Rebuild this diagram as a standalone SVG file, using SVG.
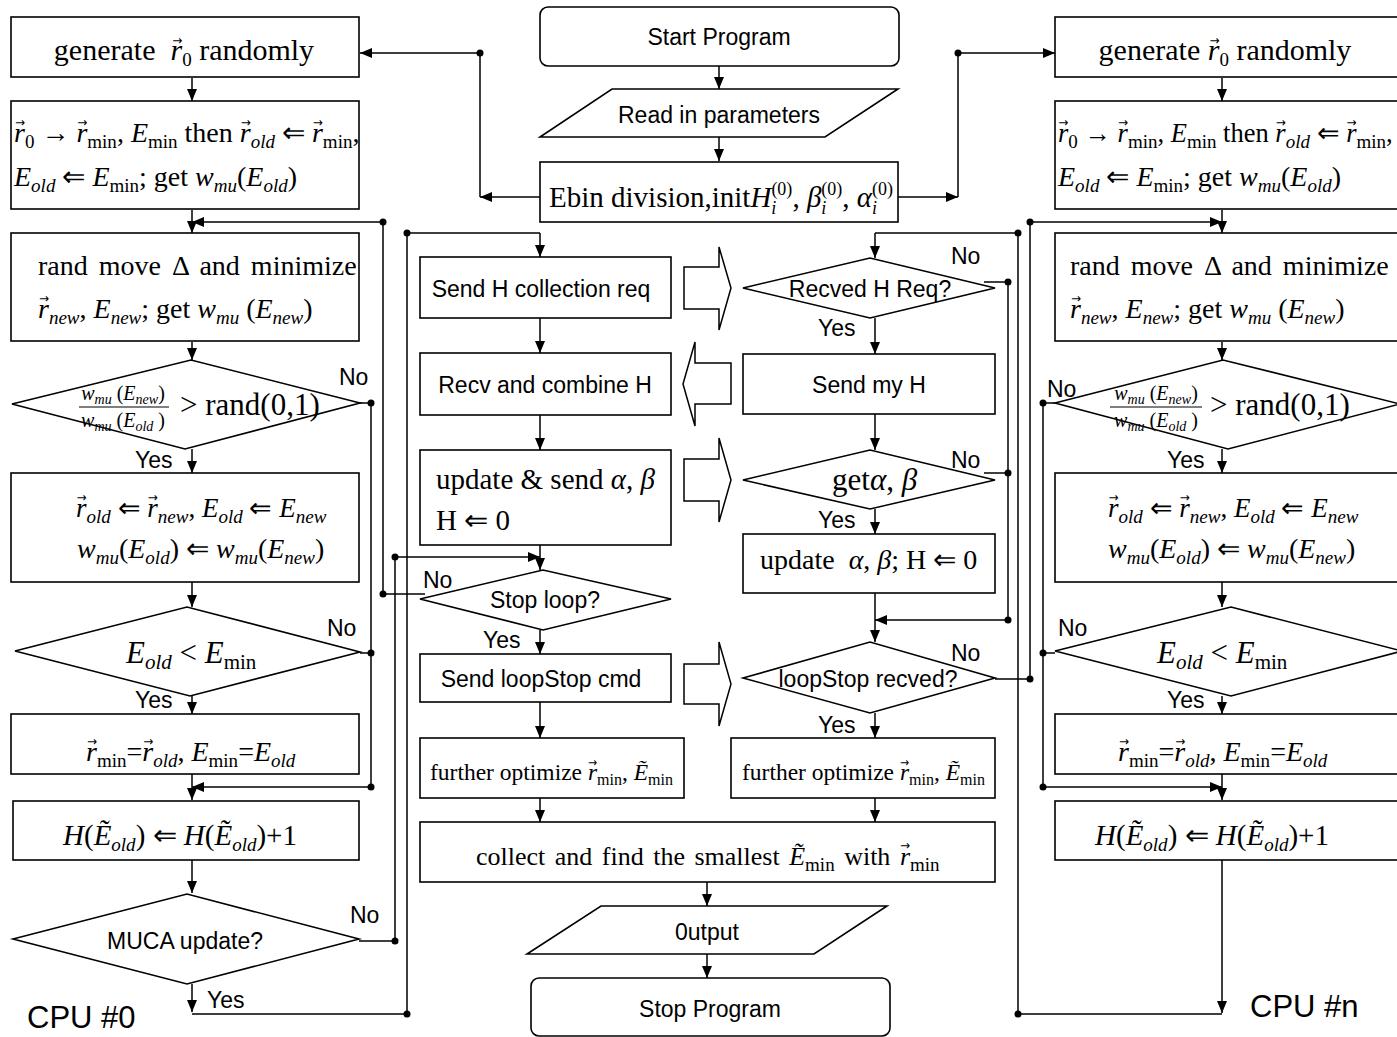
<svg xmlns="http://www.w3.org/2000/svg" width="1397" height="1037" viewBox="0 0 1397 1037">
<style>
.nd{fill:#fff;stroke:#000;stroke-width:1.6}
.cn{fill:none;stroke:#000;stroke-width:1.5}
.ar{marker-end:url(#ah)}
.dt{fill:#000}
.sa{font-family:"Liberation Sans",Arial,sans-serif;font-size:23px;fill:#000}
.mt{font-family:"Liberation Serif","Times New Roman",serif;font-size:28px;fill:#000}
.it{font-style:italic}
.sb{font-size:19px}
.va{font-family:"DejaVu Sans",sans-serif;font-size:13px;font-style:normal}
.bk{fill:#fff;stroke:#000;stroke-width:1.5}
</style>
<defs>
<marker id="ah" viewBox="0 0 12 10" refX="12" refY="5" markerWidth="12" markerHeight="10" markerUnits="userSpaceOnUse" orient="auto"><path d="M0,0 L12,5 L0,10 Z" fill="#000"/></marker>
</defs>
<rect width="1397" height="1037" fill="#fff"/>

<g id="connectors">
<path class="cn ar" d="M719,66 V89"/>
<path class="cn ar" d="M719,137 V161"/>
<path class="cn ar" d="M540,197 H480"/>
<path class="cn ar" d="M480,197 V53 H360"/>
<path class="cn ar" d="M898,197 H958"/>
<path class="cn ar" d="M958,197 V53 H1055"/>
<circle class="dt" cx="480" cy="53" r="3.5"/>
<circle class="dt" cx="958" cy="53" r="3.5"/>
<path class="cn ar" d="M192,78 V101"/>
<path class="cn ar" d="M192,210 V233"/>
<path class="cn ar" d="M192,342 V360"/>
<path class="cn ar" d="M192,449 V473"/>
<path class="cn ar" d="M192,582 V607"/>
<path class="cn ar" d="M192,696 V714"/>
<path class="cn ar" d="M192,774 V800"/>
<path class="cn ar" d="M192,860 V893"/>
<path class="cn ar" d="M192,984 V1012"/>
<path class="cn ar" d="M383,594 V222 H192"/>
<path class="cn" d="M383,594 H425"/>
<circle class="dt" cx="383" cy="222" r="3.5"/>
<circle class="dt" cx="383" cy="594" r="3.5"/>
<path class="cn" d="M333,403 H371 V787"/>
<path class="cn" d="M360,653 H371"/>
<path class="cn ar" d="M371,787 H192"/>
<circle class="dt" cx="371" cy="403" r="3.5"/>
<circle class="dt" cx="371" cy="653" r="3.5"/>
<circle class="dt" cx="371" cy="787" r="3.5"/>
<path class="cn" d="M359,941 H395 V557"/>
<path class="cn ar" d="M395,557 H540"/>
<circle class="dt" cx="395" cy="941" r="3.5"/>
<circle class="dt" cx="395" cy="557" r="3.5"/>
<path class="cn" d="M192,1014 H407 V233 H540"/>
<path class="cn ar" d="M540,233 V257"/>
<circle class="dt" cx="407" cy="1014" r="3.5"/>
<circle class="dt" cx="407" cy="233" r="3.5"/>
<path class="cn ar" d="M540,318 V353"/>
<path class="cn ar" d="M540,415 V450"/>
<path class="cn ar" d="M540,545 V570"/>
<path class="cn ar" d="M540,630 V654"/>
<path class="cn ar" d="M540,702 V738"/>
<path class="cn ar" d="M540,798 V822"/>
<path class="cn ar" d="M707,882 V906"/>
<path class="cn ar" d="M707,954 V978"/>
<path class="cn" d="M1018,233 H875"/>
<path class="cn ar" d="M875,233 V258"/>
<path class="cn ar" d="M875,318 V354"/>
<path class="cn ar" d="M875,414 V450"/>
<path class="cn ar" d="M875,509 V534"/>
<path class="cn ar" d="M875,593 V642"/>
<path class="cn ar" d="M875,713 V738"/>
<path class="cn ar" d="M875,798 V822"/>
<path class="cn" d="M984,282 H1008 V620"/>
<path class="cn" d="M984,473 H1008"/>
<path class="cn ar" d="M1008,620 H875"/>
<circle class="dt" cx="1008" cy="282" r="3.5"/>
<circle class="dt" cx="1008" cy="473" r="3.5"/>
<circle class="dt" cx="1008" cy="620" r="3.5"/>
<path class="cn" d="M995,679 H1030 V222"/>
<path class="cn ar" d="M1030,222 H1222"/>
<circle class="dt" cx="1030" cy="679" r="3.5"/>
<circle class="dt" cx="1030" cy="222" r="3.5"/>
<path class="cn ar" d="M1222,860 V1013"/>
<path class="cn" d="M1222,1014 H1018 V233"/>
<circle class="dt" cx="1018" cy="1014" r="3.5"/>
<circle class="dt" cx="1018" cy="233" r="3.5"/>
<path class="cn ar" d="M1222,78 V101"/>
<path class="cn ar" d="M1222,210 V233"/>
<path class="cn ar" d="M1222,342 V360"/>
<path class="cn ar" d="M1222,449 V473"/>
<path class="cn ar" d="M1222,582 V607"/>
<path class="cn ar" d="M1222,696 V714"/>
<path class="cn ar" d="M1222,774 V800"/>
<path class="cn" d="M1055,403 H1043 V787"/>
<path class="cn" d="M1055,653 H1043"/>
<path class="cn ar" d="M1043,787 H1222"/>
<circle class="dt" cx="1043" cy="403" r="3.5"/>
<circle class="dt" cx="1043" cy="653" r="3.5"/>
<circle class="dt" cx="1043" cy="787" r="3.5"/>
<path class="bk" d="M684,267 H719 V247 L731,288 L719,330 V309 H684 Z"/>
<path class="bk" d="M731,363 H695 V342 L683,384 L695,426 V404 H731 Z"/>
<path class="bk" d="M684,459 H719 V438 L731,480 L719,522 V501 H684 Z"/>
<path class="bk" d="M684,664 H719 V642 L731,684 L719,726 V704 H684 Z"/>
</g>

<g id="labels" class="sa">
<text x="339" y="385">No</text>
<text x="135" y="468">Yes</text>
<text x="327" y="636">No</text>
<text x="135" y="708">Yes</text>
<text x="350" y="923">No</text>
<text x="207" y="1008">Yes</text>
<text x="423" y="588">No</text>
<text x="483" y="648">Yes</text>
<text x="951" y="264">No</text>
<text x="818" y="336">Yes</text>
<text x="951" y="468">No</text>
<text x="818" y="528">Yes</text>
<text x="951" y="661">No</text>
<text x="818" y="733">Yes</text>
<text x="1047" y="397">No</text>
<text x="1167" y="468">Yes</text>
<text x="1058" y="636">No</text>
<text x="1167" y="708">Yes</text>
<text x="27" y="1028" style="font-size:31px">CPU #0</text>
<text x="1250" y="1017" style="font-size:31px">CPU #n</text>
</g>

<g id="start">
<rect class="nd" x="540" y="7" width="359" height="59" rx="8"/>
<text class="sa" x="719" y="45" text-anchor="middle">Start Program</text>
</g>
<g id="read">
<polygon class="nd" points="612,89 898,89 825,137 540,137"/>
<text class="sa" x="719" y="123" text-anchor="middle">Read in parameters</text>
</g>
<g id="ebin">
<rect class="nd" x="540" y="162" width="358" height="60"/>
<text class="mt" x="549" y="207" style="font-size:29px">Ebin division,init<tspan class="it">H</tspan><tspan class="it" font-size="18" dy="7">i</tspan><tspan font-size="18" dx="-5" dy="-19">(0)</tspan><tspan dy="12">, </tspan><tspan class="it">β</tspan><tspan class="it" font-size="18" dy="7">i</tspan><tspan font-size="18" dx="-5" dy="-19">(0)</tspan><tspan dy="12">, </tspan><tspan class="it">α</tspan><tspan class="it" font-size="18" dy="7">i</tspan><tspan font-size="18" dx="-5" dy="-19">(0)</tspan></text>
</g>

<g id="gen0">
<rect class="nd" x="11" y="17" width="348" height="60"/>
<text class="mt" x="184" y="60" text-anchor="middle" style="font-size:30px" xml:space="preserve">generate  <tspan class="it">r</tspan><tspan class="va" dx="-10" dy="-15" textLength="10" lengthAdjust="spacingAndGlyphs">→</tspan><tspan class="sb" dy="21">0</tspan><tspan dy="-6"> randomly</tspan></text>
</g>
<g id="init0">
<rect class="nd" x="11" y="101" width="348" height="108"/>
<text class="mt" x="14" y="142"><tspan class="it">r</tspan><tspan class="va" dx="-10" dy="-15" textLength="10" lengthAdjust="spacingAndGlyphs">→</tspan><tspan class="sb" dy="21">0</tspan><tspan dy="-6"> → </tspan><tspan class="it">r</tspan><tspan class="va" dx="-10" dy="-15" textLength="10" lengthAdjust="spacingAndGlyphs">→</tspan><tspan class="sb" dy="21">min</tspan><tspan dy="-6">, </tspan><tspan class="it">E</tspan><tspan class="sb" dy="6">min</tspan><tspan dy="-6"> then </tspan><tspan class="it">r</tspan><tspan class="va" dx="-10" dy="-15" textLength="10" lengthAdjust="spacingAndGlyphs">→</tspan><tspan class="sb it" dy="21">old</tspan><tspan dy="-6"> ⇐ </tspan><tspan class="it">r</tspan><tspan class="va" dx="-10" dy="-15" textLength="10" lengthAdjust="spacingAndGlyphs">→</tspan><tspan class="sb" dy="21">min</tspan><tspan dy="-6">,</tspan></text>
<text class="mt" x="14" y="186"><tspan class="it">E</tspan><tspan class="sb it" dy="6">old</tspan><tspan dy="-6"> ⇐ </tspan><tspan class="it">E</tspan><tspan class="sb" dy="6">min</tspan><tspan dy="-6">; get </tspan><tspan class="it">w</tspan><tspan class="sb it" dy="6">mu</tspan><tspan dy="-6">(</tspan><tspan class="it">E</tspan><tspan class="sb it" dy="6">old</tspan><tspan dy="-6">)</tspan></text>
</g>
<g id="move0">
<rect class="nd" x="11" y="233" width="348" height="108"/>
<text class="mt" x="38" y="275" word-spacing="4">rand move Δ and minimize</text>
<text class="mt" x="38" y="318"><tspan class="it">r</tspan><tspan class="va" dx="-10" dy="-15" textLength="10" lengthAdjust="spacingAndGlyphs">→</tspan><tspan class="sb it" dy="21">new</tspan><tspan dy="-6">, </tspan><tspan class="it">E</tspan><tspan class="sb it" dy="6">new</tspan><tspan dy="-6">; get </tspan><tspan class="it">w</tspan><tspan class="sb it" dy="6">mu</tspan><tspan dy="-6"> (</tspan><tspan class="it">E</tspan><tspan class="sb it" dy="6">new</tspan><tspan dy="-6">)</tspan></text>
</g>
<g id="acc0">
<polygon class="nd" points="12,404 191,360 360,403 185,449"/>
<text class="mt" x="123" y="400" text-anchor="middle" style="font-size:20px"><tspan class="it">w</tspan><tspan class="it" font-size="14" dy="4">mu</tspan><tspan dy="-4"> (</tspan><tspan class="it">E</tspan><tspan class="it" font-size="14" dy="4">new</tspan><tspan dy="-4">)</tspan></text>
<path class="cn" d="M79,407 H169" style="stroke-width:1.2"/>
<text class="mt" x="123" y="427" text-anchor="middle" style="font-size:20px"><tspan class="it">w</tspan><tspan class="it" font-size="14" dy="4">mu</tspan><tspan dy="-4"> (</tspan><tspan class="it">E</tspan><tspan class="it" font-size="14" dy="4">old</tspan><tspan dy="-4"> )</tspan></text>
<text class="mt" x="180" y="415" style="font-size:31px">&gt; rand(0,1)</text>
</g>
<g id="upd0">
<rect class="nd" x="11" y="473" width="348" height="109"/>
<text class="mt" x="76" y="517" style="font-size:27px"><tspan class="it">r</tspan><tspan class="va" dx="-10" dy="-15" textLength="10" lengthAdjust="spacingAndGlyphs">→</tspan><tspan class="sb it" dy="21">old</tspan><tspan dy="-6"> ⇐ </tspan><tspan class="it">r</tspan><tspan class="va" dx="-10" dy="-15" textLength="10" lengthAdjust="spacingAndGlyphs">→</tspan><tspan class="sb it" dy="21">new</tspan><tspan dy="-6">, </tspan><tspan class="it">E</tspan><tspan class="sb it" dy="6">old</tspan><tspan dy="-6"> ⇐ </tspan><tspan class="it">E</tspan><tspan class="sb it" dy="6">new</tspan></text>
<text class="mt" x="77" y="558"><tspan class="it">w</tspan><tspan class="sb it" dy="6">mu</tspan><tspan dy="-6">(</tspan><tspan class="it">E</tspan><tspan class="sb it" dy="6">old</tspan><tspan dy="-6">) ⇐ </tspan><tspan class="it">w</tspan><tspan class="sb it" dy="6">mu</tspan><tspan dy="-6">(</tspan><tspan class="it">E</tspan><tspan class="sb it" dy="6">new</tspan><tspan dy="-6">)</tspan></text>
</g>
<g id="cmp0">
<polygon class="nd" points="15,651 187,607 360,652 190,696"/>
<text class="mt" x="126" y="663" style="font-size:31px"><tspan class="it">E</tspan><tspan class="it" font-size="21" dy="6">old</tspan><tspan dy="-6"> &lt; </tspan><tspan class="it">E</tspan><tspan font-size="21" dy="6">min</tspan></text>
</g>
<g id="rec0">
<rect class="nd" x="11" y="714" width="348" height="60"/>
<text class="mt" x="86" y="761"><tspan class="it">r</tspan><tspan class="va" dx="-10" dy="-15" textLength="10" lengthAdjust="spacingAndGlyphs">→</tspan><tspan class="sb" dy="21">min</tspan><tspan dy="-6">=</tspan><tspan class="it">r</tspan><tspan class="va" dx="-10" dy="-15" textLength="10" lengthAdjust="spacingAndGlyphs">→</tspan><tspan class="sb it" dy="21">old</tspan><tspan dy="-6">, </tspan><tspan class="it">E</tspan><tspan class="sb" dy="6">min</tspan><tspan dy="-6">=</tspan><tspan class="it">E</tspan><tspan class="sb it" dy="6">old</tspan></text>
</g>
<g id="hist0">
<rect class="nd" x="13" y="801" width="346" height="59"/>
<text class="mt" x="63" y="845" style="font-size:29px"><tspan class="it">H</tspan>(<tspan class="it">Ẽ</tspan><tspan class="sb it" dy="6">old</tspan><tspan dy="-6">) ⇐ </tspan><tspan class="it">H</tspan>(<tspan class="it">Ẽ</tspan><tspan class="sb it" dy="6">old</tspan><tspan dy="-6">)+1</tspan></text>
</g>
<g id="muca">
<polygon class="nd" points="13,939 187,894 359,939 187,984"/>
<text class="sa" x="185" y="949" text-anchor="middle">MUCA update?</text>
</g>

<g id="sendreq">
<rect class="nd" x="420" y="257" width="251" height="61"/>
<text class="sa" x="541" y="297" text-anchor="middle">Send H collection req</text>
</g>
<g id="recvcomb">
<rect class="nd" x="420" y="353" width="251" height="62"/>
<text class="sa" x="545" y="393" text-anchor="middle">Recv and combine H</text>
</g>
<g id="updsend">
<rect class="nd" x="420" y="450" width="251" height="95"/>
<text class="mt" x="436" y="489" style="font-size:29px">update &amp; send <tspan class="it">α</tspan>, <tspan class="it">β</tspan></text>
<text class="mt" x="436" y="530" style="font-size:29px">H ⇐ 0</text>
</g>
<g id="stoploop">
<polygon class="nd" points="420,599 543,570 671,599 543,630"/>
<text class="sa" x="545" y="608" text-anchor="middle">Stop loop?</text>
</g>
<g id="sendstop">
<rect class="nd" x="420" y="654" width="251" height="48"/>
<text class="sa" x="541" y="687" text-anchor="middle">Send loopStop cmd</text>
</g>
<g id="opt0">
<rect class="nd" x="420" y="738" width="264" height="60"/>
<text class="mt" x="430" y="780" style="font-size:23.5px">further optimize <tspan class="it">r</tspan><tspan class="va" dx="-9" dy="-13" textLength="9" lengthAdjust="spacingAndGlyphs" font-size="12">→</tspan><tspan font-size="16" dy="18">min</tspan><tspan dy="-5">, </tspan><tspan class="it">Ẽ</tspan><tspan font-size="16" dy="5">min</tspan></text>
</g>
<g id="recvreq">
<polygon class="nd" points="743,288 870,258 995,288 870,318"/>
<text class="sa" x="870" y="297" text-anchor="middle">Recved H Req?</text>
</g>
<g id="sendmy">
<rect class="nd" x="743" y="354" width="252" height="60"/>
<text class="sa" x="869" y="393" text-anchor="middle">Send my H</text>
</g>
<g id="getab">
<polygon class="nd" points="743,480 870,450 995,480 870,509"/>
<text class="mt" x="832" y="490" style="font-size:31px">get<tspan class="it">α</tspan>, <tspan class="it">β</tspan></text>
</g>
<g id="updab">
<rect class="nd" x="743" y="534" width="252" height="59"/>
<text class="mt" x="760" y="569" style="font-size:28px" xml:space="preserve">update  <tspan class="it">α</tspan>, <tspan class="it">β</tspan>; H ⇐ 0</text>
</g>
<g id="stoprecv">
<polygon class="nd" points="743,678 870,642 995,678 870,713"/>
<text class="sa" x="868" y="687" text-anchor="middle">loopStop recved?</text>
</g>
<g id="optn">
<rect class="nd" x="731" y="738" width="264" height="60"/>
<text class="mt" x="742" y="780" style="font-size:23.5px">further optimize <tspan class="it">r</tspan><tspan class="va" dx="-9" dy="-13" textLength="9" lengthAdjust="spacingAndGlyphs" font-size="12">→</tspan><tspan font-size="16" dy="18">min</tspan><tspan dy="-5">, </tspan><tspan class="it">Ẽ</tspan><tspan font-size="16" dy="5">min</tspan></text>
</g>
<g id="collect">
<rect class="nd" x="420" y="822" width="575" height="60"/>
<text class="mt" x="476" y="865" style="font-size:26px" word-spacing="3">collect and find the smallest <tspan class="it">Ẽ</tspan><tspan class="sb" dy="6">min</tspan><tspan dy="-6"> with </tspan><tspan class="it">r</tspan><tspan class="va" dx="-10" dy="-15" textLength="10" lengthAdjust="spacingAndGlyphs">→</tspan><tspan class="sb" dy="21">min</tspan></text>
</g>
<g id="output">
<polygon class="nd" points="601,906 887,906 814,954 527,954"/>
<text class="sa" x="707" y="940" text-anchor="middle">0utput</text>
</g>
<g id="stop">
<rect class="nd" x="531" y="978" width="359" height="58" rx="8"/>
<text class="sa" x="710" y="1017" text-anchor="middle">Stop Program</text>
</g>

<g id="genn">
<rect class="nd" x="1055" y="17" width="348" height="60"/>
<text class="mt" x="1225" y="60" text-anchor="middle" style="font-size:30px">generate <tspan class="it">r</tspan><tspan class="va" dx="-10" dy="-15" textLength="10" lengthAdjust="spacingAndGlyphs">→</tspan><tspan class="sb" dy="21">0</tspan><tspan dy="-6"> randomly</tspan></text>
</g>
<g id="initn">
<rect class="nd" x="1055" y="101" width="348" height="108"/>
<text class="mt" x="1058" y="142" style="font-size:26.5px"><tspan class="it">r</tspan><tspan class="va" dx="-10" dy="-15" textLength="10" lengthAdjust="spacingAndGlyphs">→</tspan><tspan class="sb" dy="21">0</tspan><tspan dy="-6"> → </tspan><tspan class="it">r</tspan><tspan class="va" dx="-10" dy="-15" textLength="10" lengthAdjust="spacingAndGlyphs">→</tspan><tspan class="sb" dy="21">min</tspan><tspan dy="-6">, </tspan><tspan class="it">E</tspan><tspan class="sb" dy="6">min</tspan><tspan dy="-6"> then </tspan><tspan class="it">r</tspan><tspan class="va" dx="-10" dy="-15" textLength="10" lengthAdjust="spacingAndGlyphs">→</tspan><tspan class="sb it" dy="21">old</tspan><tspan dy="-6"> ⇐ </tspan><tspan class="it">r</tspan><tspan class="va" dx="-10" dy="-15" textLength="10" lengthAdjust="spacingAndGlyphs">→</tspan><tspan class="sb" dy="21">min</tspan><tspan dy="-6">,</tspan></text>
<text class="mt" x="1058" y="186"><tspan class="it">E</tspan><tspan class="sb it" dy="6">old</tspan><tspan dy="-6"> ⇐ </tspan><tspan class="it">E</tspan><tspan class="sb" dy="6">min</tspan><tspan dy="-6">; get </tspan><tspan class="it">w</tspan><tspan class="sb it" dy="6">mu</tspan><tspan dy="-6">(</tspan><tspan class="it">E</tspan><tspan class="sb it" dy="6">old</tspan><tspan dy="-6">)</tspan></text>
</g>
<g id="moven">
<rect class="nd" x="1055" y="233" width="348" height="108"/>
<text class="mt" x="1070" y="275" word-spacing="4">rand move Δ and minimize</text>
<text class="mt" x="1070" y="318"><tspan class="it">r</tspan><tspan class="va" dx="-10" dy="-15" textLength="10" lengthAdjust="spacingAndGlyphs">→</tspan><tspan class="sb it" dy="21">new</tspan><tspan dy="-6">, </tspan><tspan class="it">E</tspan><tspan class="sb it" dy="6">new</tspan><tspan dy="-6">; get </tspan><tspan class="it">w</tspan><tspan class="sb it" dy="6">mu</tspan><tspan dy="-6"> (</tspan><tspan class="it">E</tspan><tspan class="sb it" dy="6">new</tspan><tspan dy="-6">)</tspan></text>
</g>
<g id="accn">
<polygon class="nd" points="1055,403 1223,360 1400,404 1228,449"/>
<text class="mt" x="1156" y="400" text-anchor="middle" style="font-size:20px"><tspan class="it">w</tspan><tspan class="it" font-size="14" dy="4">mu</tspan><tspan dy="-4"> (</tspan><tspan class="it">E</tspan><tspan class="it" font-size="14" dy="4">new</tspan><tspan dy="-4">)</tspan></text>
<path class="cn" d="M1110,407 H1202" style="stroke-width:1.2"/>
<text class="mt" x="1156" y="427" text-anchor="middle" style="font-size:20px"><tspan class="it">w</tspan><tspan class="it" font-size="14" dy="4">mu</tspan><tspan dy="-4"> (</tspan><tspan class="it">E</tspan><tspan class="it" font-size="14" dy="4">old</tspan><tspan dy="-4"> )</tspan></text>
<text class="mt" x="1210" y="415" style="font-size:31px">&gt; rand(0,1)</text>
</g>
<g id="updn">
<rect class="nd" x="1055" y="473" width="348" height="109"/>
<text class="mt" x="1108" y="517" style="font-size:27px"><tspan class="it">r</tspan><tspan class="va" dx="-10" dy="-15" textLength="10" lengthAdjust="spacingAndGlyphs">→</tspan><tspan class="sb it" dy="21">old</tspan><tspan dy="-6"> ⇐ </tspan><tspan class="it">r</tspan><tspan class="va" dx="-10" dy="-15" textLength="10" lengthAdjust="spacingAndGlyphs">→</tspan><tspan class="sb it" dy="21">new</tspan><tspan dy="-6">, </tspan><tspan class="it">E</tspan><tspan class="sb it" dy="6">old</tspan><tspan dy="-6"> ⇐ </tspan><tspan class="it">E</tspan><tspan class="sb it" dy="6">new</tspan></text>
<text class="mt" x="1108" y="558"><tspan class="it">w</tspan><tspan class="sb it" dy="6">mu</tspan><tspan dy="-6">(</tspan><tspan class="it">E</tspan><tspan class="sb it" dy="6">old</tspan><tspan dy="-6">) ⇐ </tspan><tspan class="it">w</tspan><tspan class="sb it" dy="6">mu</tspan><tspan dy="-6">(</tspan><tspan class="it">E</tspan><tspan class="sb it" dy="6">new</tspan><tspan dy="-6">)</tspan></text>
</g>
<g id="cmpn">
<polygon class="nd" points="1055,651 1231,607 1402,651 1231,696"/>
<text class="mt" x="1157" y="663" style="font-size:31px"><tspan class="it">E</tspan><tspan class="it" font-size="21" dy="6">old</tspan><tspan dy="-6"> &lt; </tspan><tspan class="it">E</tspan><tspan font-size="21" dy="6">min</tspan></text>
</g>
<g id="recn">
<rect class="nd" x="1055" y="714" width="348" height="60"/>
<text class="mt" x="1118" y="761"><tspan class="it">r</tspan><tspan class="va" dx="-10" dy="-15" textLength="10" lengthAdjust="spacingAndGlyphs">→</tspan><tspan class="sb" dy="21">min</tspan><tspan dy="-6">=</tspan><tspan class="it">r</tspan><tspan class="va" dx="-10" dy="-15" textLength="10" lengthAdjust="spacingAndGlyphs">→</tspan><tspan class="sb it" dy="21">old</tspan><tspan dy="-6">, </tspan><tspan class="it">E</tspan><tspan class="sb" dy="6">min</tspan><tspan dy="-6">=</tspan><tspan class="it">E</tspan><tspan class="sb it" dy="6">old</tspan></text>
</g>
<g id="histn">
<rect class="nd" x="1055" y="801" width="348" height="59"/>
<text class="mt" x="1095" y="845" style="font-size:29px"><tspan class="it">H</tspan>(<tspan class="it">Ẽ</tspan><tspan class="sb it" dy="6">old</tspan><tspan dy="-6">) ⇐ </tspan><tspan class="it">H</tspan>(<tspan class="it">Ẽ</tspan><tspan class="sb it" dy="6">old</tspan><tspan dy="-6">)+1</tspan></text>
</g>
</svg>
